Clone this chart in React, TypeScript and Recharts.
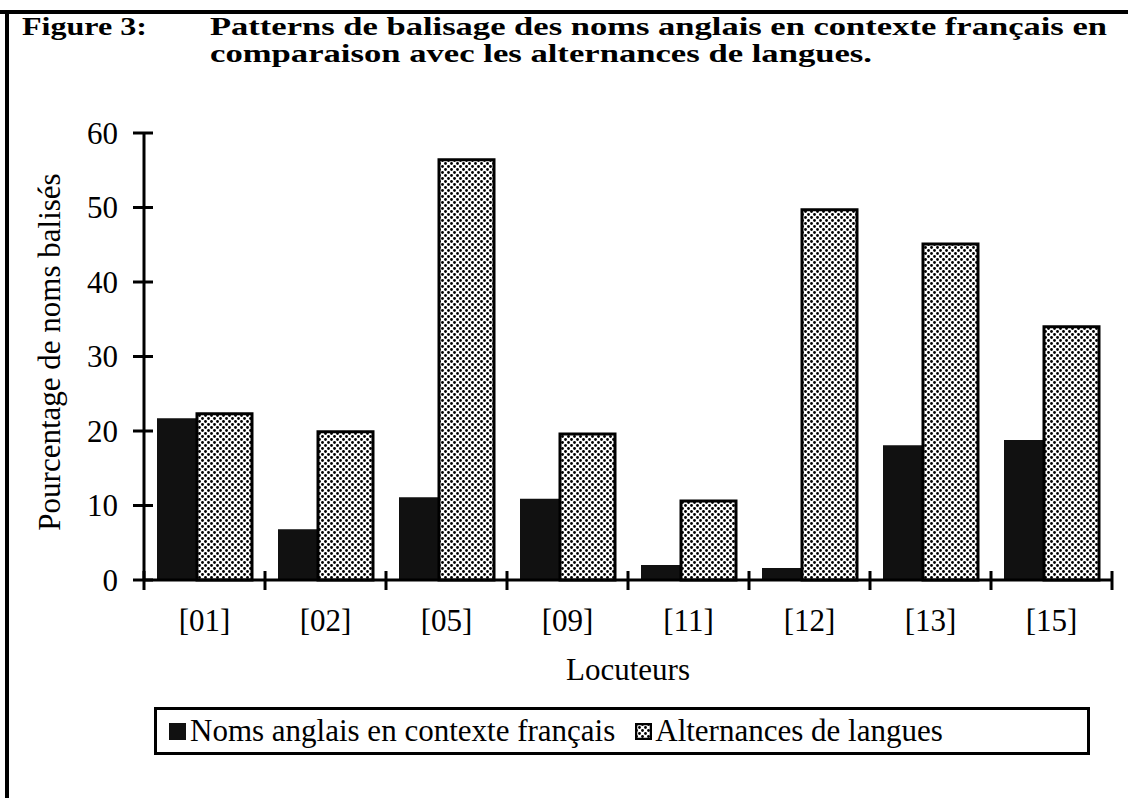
import { Bar, BarChart, Legend, XAxis, YAxis } from "recharts"

const locuteurs = ['[01]', '[02]', '[05]', '[09]', '[11]', '[12]', '[13]', '[15]']
const nomsAnglais = [21.7, 6.8, 11.1, 10.9, 2.0, 1.6, 18.1, 18.8]
const alternances = [22.3, 19.9, 56.4, 19.6, 10.6, 49.7, 45.1, 34.0]
const yTicks = [0, 10, 20, 30, 40, 50, 60]

const chartData = locuteurs.map((name, i) => ({
  name,
  noms: nomsAnglais[i],
  alt: alternances[i],
}))

const W = 1130
const H = 798
const PLOT_LEFT = 144
const PLOT_RIGHT = 1112
const BAND = (PLOT_RIGHT - PLOT_LEFT) / locuteurs.length
const serif = '"Liberation Serif", "Times New Roman", serif'

const YTick = (props: any) => {
  const { x, y, payload } = props
  return (
    <g>
      <line x1={x - 11} x2={x + 9} y1={y} y2={y} stroke="#000" strokeWidth={3} />
      <text x={x - 26} y={y} dy="0.35em" textAnchor="end" fontFamily={serif} fontSize={31} fill="#000">
        {payload.value}
      </text>
    </g>
  )
}

const XTick = (props: any) => {
  const { x, y, payload, index } = props
  const last = index === locuteurs.length - 1
  return (
    <g>
      <line x1={x - BAND / 2} x2={x - BAND / 2} y1={y - 9} y2={y + 10} stroke="#000" strokeWidth={3} />
      {last && <line x1={x + BAND / 2} x2={x + BAND / 2} y1={y - 9} y2={y + 10} stroke="#000" strokeWidth={3} />}
      <text x={x} y={y + 51} textAnchor="middle" fontFamily={serif} fontSize={31} fill="#000">
        {payload.value}
      </text>
    </g>
  )
}

const LegendBox = () => (
  <div
    style={{
      width: 930,
      height: 42,
      border: '3px solid #000',
      display: 'flex',
      alignItems: 'center',
      fontFamily: serif,
      fontSize: 31,
      color: '#000',
      whiteSpace: 'nowrap',
    }}
  >
    <svg width={17} height={17} style={{ marginLeft: 12, marginRight: 4 }}>
      <rect x={0} y={0} width={17} height={17} fill="#111" />
    </svg>
    <span>Noms anglais en contexte français</span>
    <svg width={17} height={17} style={{ marginLeft: 20, marginRight: 3 }}>
      <rect x={1} y={1} width={15} height={15} fill="url(#dots)" stroke="#000" strokeWidth={2.5} />
    </svg>
    <span>Alternances de langues</span>
  </div>
)

const App = () => {
  return (
    <div style={{ position: 'absolute', left: 0, top: 0, width: W, height: H, background: '#fff' }}>
      <svg width={W} height={H} style={{ position: 'absolute', left: 0, top: 0 }}>
        <defs>
          <pattern id="dots" width={6} height={6} patternUnits="userSpaceOnUse">
            <rect width={6} height={6} fill="#fff" />
            <circle cx={1.5} cy={1.5} r={1.4} fill="#000" />
            <circle cx={4.5} cy={4.5} r={1.4} fill="#000" />
          </pattern>
        </defs>
        <line x1={0} x2={1128} y1={12} y2={12} stroke="#000" strokeWidth={4} />
        <line x1={7} x2={7} y1={10} y2={798} stroke="#000" strokeWidth={4} />
        <g fontFamily={serif} fontWeight="bold" fontSize={26} fill="#000">
          <text x={22} y={35} textLength={125} lengthAdjust="spacingAndGlyphs">Figure 3:</text>
          <text x={210} y={35} textLength={897} lengthAdjust="spacingAndGlyphs">
            Patterns de balisage des noms anglais en contexte français en
          </text>
          <text x={210} y={62} textLength={662} lengthAdjust="spacingAndGlyphs">
            comparaison avec les alternances de langues.
          </text>
        </g>
        <text
          x={0}
          y={0}
          transform="translate(60 352) rotate(-90)"
          textAnchor="middle"
          fontFamily={serif}
          fontSize={31}
          fill="#000"
        >
          Pourcentage de noms balisés
        </text>
      </svg>
      <div style={{ position: 'absolute', left: 0, top: 0 }}>
        <BarChart
          width={W}
          height={H}
          data={chartData}
          margin={{ top: 133, right: W - PLOT_RIGHT, bottom: 118, left: PLOT_LEFT - 60 }}
          barCategoryGap={12}
          barGap={0}
        >
          <XAxis
            dataKey="name"
            axisLine={{ stroke: '#000', strokeWidth: 3 }}
            tickLine={false}
            tickSize={0}
            tickMargin={0}
            tick={<XTick />}
            interval={0}
            height={100}
            label={{ value: 'Locuteurs', position: 'insideBottom', offset: 0, fontFamily: serif, fontSize: 31, fill: '#000' }}
          />
          <YAxis
            domain={[0, 60]}
            ticks={yTicks}
            width={60}
            axisLine={{ stroke: '#000', strokeWidth: 3 }}
            tickLine={false}
            tickSize={0}
            tickMargin={0}
            tick={<YTick />}
          />
          <Legend
            layout="horizontal"
            verticalAlign="middle"
            align="center"
            content={<LegendBox />}
            wrapperStyle={{ left: 154, top: 707, width: 936 }}
          />
          <Bar dataKey="noms" name="Noms anglais en contexte français" fill="#111" barSize={40} isAnimationActive={false} />
          <Bar dataKey="alt" name="Alternances de langues" fill="url(#dots)" stroke="#000" strokeWidth={3} barSize={55} isAnimationActive={false} />
        </BarChart>
      </div>
    </div>
  )
}

export default App
